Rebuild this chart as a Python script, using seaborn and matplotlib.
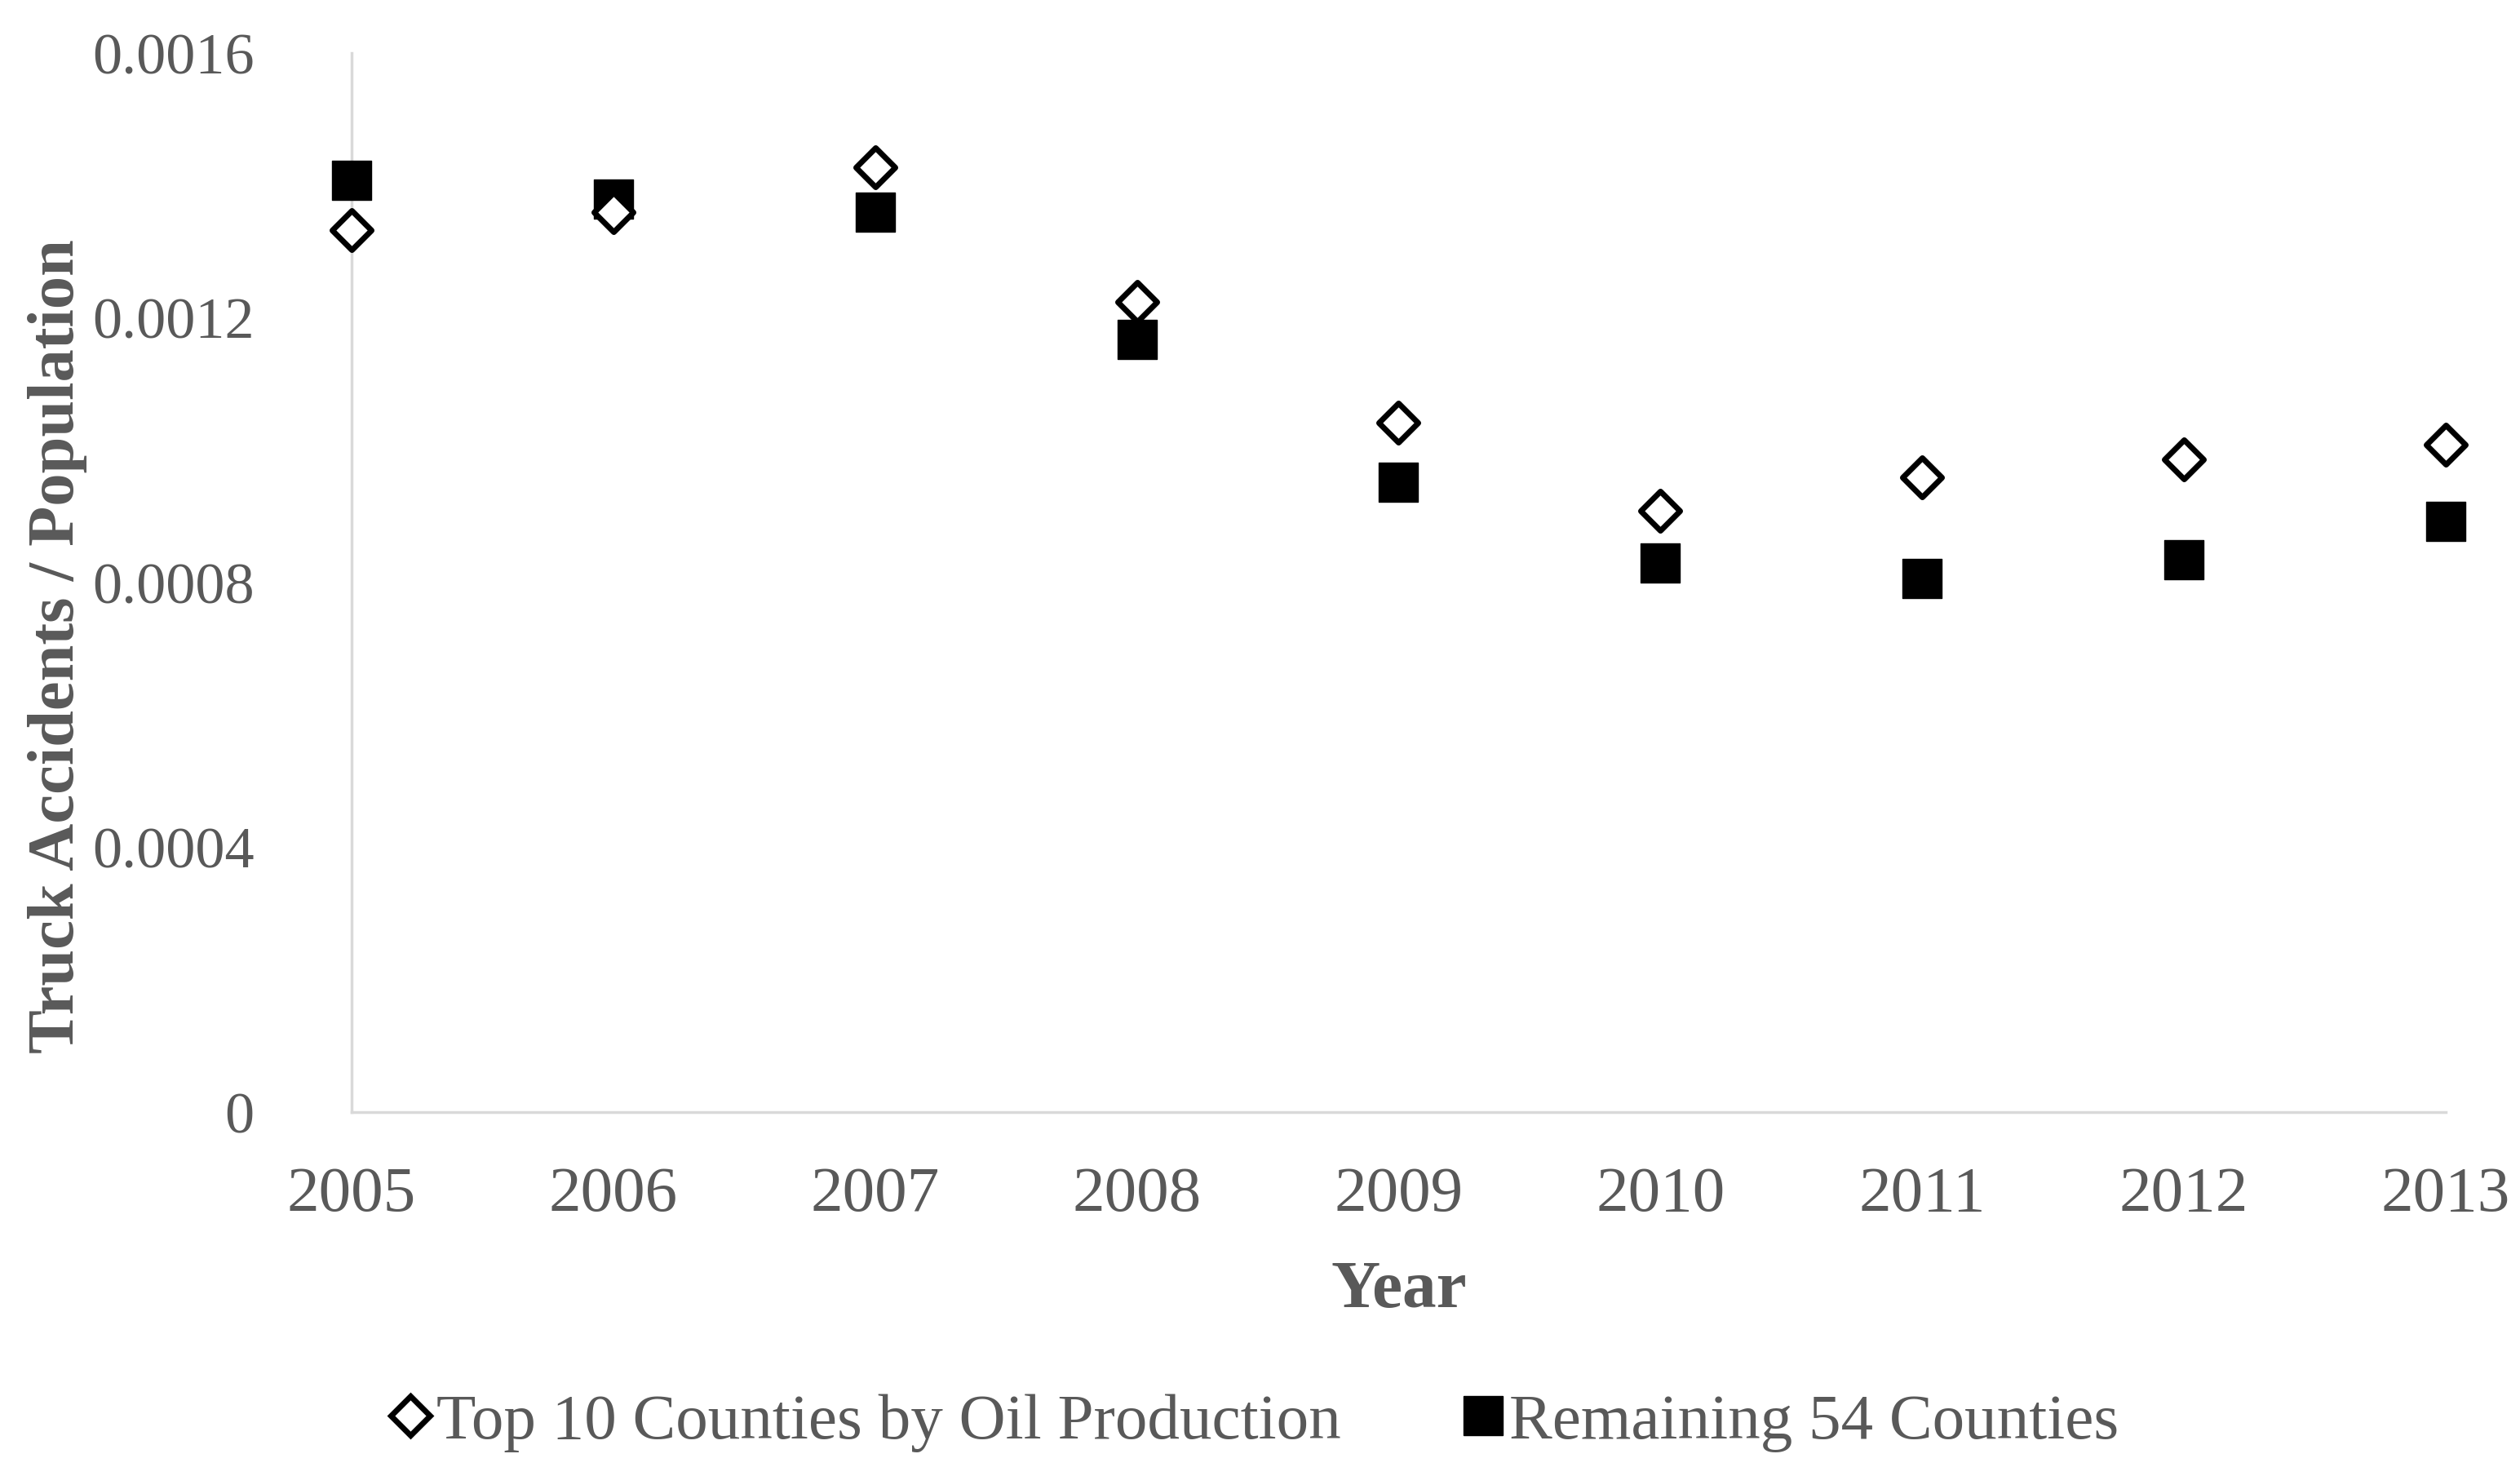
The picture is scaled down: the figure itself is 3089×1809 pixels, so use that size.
import matplotlib
matplotlib.use("Agg")
import matplotlib.pyplot as plt
import seaborn as sns
from matplotlib.lines import Line2D

years = [2005, 2006, 2007, 2008, 2009, 2010, 2011, 2012, 2013]
top10_oil = [0.001333, 0.001360, 0.001428, 0.001224, 0.001042, 0.000908, 0.000959, 0.000986, 0.001008]
remaining54 = [0.001408, 0.001379, 0.001360, 0.001168, 0.000952, 0.000830, 0.000806, 0.000835, 0.000893]
y_ticks = [0, 0.0004, 0.0008, 0.0012, 0.0016]
y_tick_labels = ["0", "0.0004", "0.0008", "0.0012", "0.0016"]
series_labels = ["Top 10 Counties by Oil Production", "Remaining 54 Counties"]

sns.set_theme(style="white")
plt.rcParams["font.family"] = ["Liberation Serif", "DejaVu Serif"]

TXT = "#595959"
fig = plt.figure(figsize=(30.89, 18.09), dpi=100)
ax = fig.add_axes([0.1395, 0.2465, 0.9705 - 0.1395, 0.964 - 0.2465])

sns.scatterplot(x=years, y=remaining54, marker="s", s=1150, color="black",
                edgecolor="black", linewidth=1, ax=ax, clip_on=False, zorder=3)
sns.scatterplot(x=years, y=top10_oil, marker="D", s=600, color="white",
                edgecolor="black", linewidth=5, ax=ax, clip_on=False, zorder=4)

ax.set_xlim(2005, 2013)
ax.set_ylim(0, 0.0016)
ax.set_xticks(years)
ax.set_xticklabels([str(y) for y in years])
ax.set_yticks(y_ticks)
ax.set_yticklabels(y_tick_labels)
ax.tick_params(axis="both", length=0, labelcolor=TXT)
ax.tick_params(axis="y", pad=86, labelsize=52)
ax.tick_params(axis="x", pad=48, labelsize=57)

for s in ["top", "right"]:
    ax.spines[s].set_visible(False)
for s in ["left", "bottom"]:
    ax.spines[s].set_color("#d9d9d9")
    ax.spines[s].set_linewidth(2.5)

ax.set_xlabel("Year", fontsize=60, fontweight="bold", color=TXT)
ax.set_ylabel("Truck Accidents / Population", fontsize=58, fontweight="bold", color=TXT)
ax.xaxis.set_label_coords(0.5, -0.14)
ax.yaxis.set_label_coords(-0.126, 0.44)

handles = [
    Line2D([], [], linestyle="none", marker="D", markersize=24, markerfacecolor="white",
           markeredgecolor="black", markeredgewidth=5),
    Line2D([], [], linestyle="none", marker="s", markersize=34, markerfacecolor="black",
           markeredgecolor="black"),
]
leg = fig.legend(handles, series_labels, loc="center", bbox_to_anchor=(0.498, 0.036),
                 ncol=2, frameon=False, fontsize=57, handlelength=0.6,
                 handletextpad=0.1, columnspacing=1.9, labelcolor=TXT)

fig.savefig("out.png", dpi=100, facecolor="white")
